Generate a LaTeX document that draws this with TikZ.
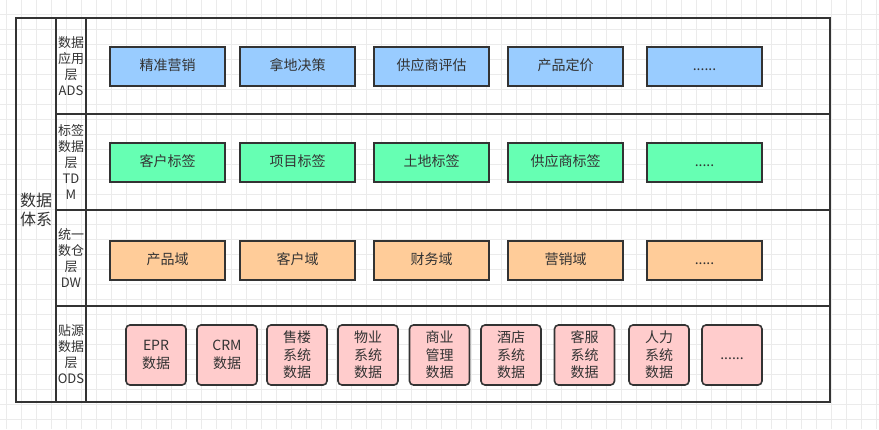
\documentclass[tikz,border=0pt]{standalone}
\usepackage{fontspec}
\setmainfont{Noto Sans CJK SC}
\definecolor{linec}{HTML}{333333}
\definecolor{txtc}{HTML}{333333}
\definecolor{gridc}{HTML}{EBEBEB}
\definecolor{adsc}{HTML}{99CCFF}
\definecolor{tdmc}{HTML}{66FFB3}
\definecolor{dwc}{HTML}{FFCC99}
\definecolor{odsc}{HTML}{FFCCCC}
\begin{document}
\begin{tikzpicture}[x=1pt,y=-1pt,
  frame/.style={draw=linec, line width=1.6pt},
  cell/.style={frame, inner sep=0pt, align=center, text=txtc},
  lbl/.style={cell, minimum width=30pt, font=\fontsize{13}{16}\selectfont},
  lay/.style={draw=linec, line width=1.6pt, minimum width=115pt, minimum height=39pt, inner sep=0pt, text=txtc, text height=11pt, text depth=3pt, font=\fontsize{14}{17}\selectfont},
  ods/.style={draw=linec, fill=odsc, line width=1.6pt, rounded corners=4pt, minimum width=60pt, minimum height=60pt, inner sep=0pt, align=center, text=txtc, font=\fontsize{14}{17.5}\selectfont}]
\useasboundingbox (0,0) rectangle (879,429);
\fill[white] (0,0) rectangle (879,429);
% grid
\foreach \i in {0,...,58} \draw[gridc, line width=0.8pt] (6.7+15*\i,0) -- (6.7+15*\i,429);
\foreach \j in {0,...,28} \draw[gridc, line width=0.8pt] (0,14.3+15*\j) -- (879,14.3+15*\j);
% frames
\node[cell, minimum width=40pt, minimum height=384pt, font=\fontsize{16}{19.5}\selectfont] (sys) at (36,210) {数据\\体系};
\node[lbl, minimum height=96pt] (lads) at (71,66) {数据\\应用\\层\\ADS};
\node[lbl, minimum height=96pt] (ltdm) at (71,162) {标签\\数据\\层\\TD\\M};
\node[lbl, minimum height=96pt] (ldw) at (71,258) {统一\\数仓\\层\\DW};
\node[lbl, minimum height=96pt] (lods) at (71,354) {贴源\\数据\\层\\ODS};
\node[frame, minimum width=744pt, minimum height=96pt] (rads) at (458,66) {};
\node[frame, minimum width=744pt, minimum height=96pt] (rtdm) at (458,162) {};
\node[frame, minimum width=744pt, minimum height=96pt] (rdw) at (458,258) {};
\node[frame, minimum width=744pt, minimum height=96pt] (rods) at (458,354) {};
% ADS
\node[lay, fill=adsc] (a1) at (167.5,66.5) {精准营销};
\node[lay, fill=adsc] (a2) at (297.5,66.5) {拿地决策};
\node[lay, fill=adsc] (a3) at (431.5,66.5) {供应商评估};
\node[lay, fill=adsc] (a4) at (565.5,66.5) {产品定价};
\node[lay, fill=adsc] (a5) at (704.5,66.5) {......};
% TDM
\node[lay, fill=tdmc] (t1) at (167.5,162.5) {客户标签};
\node[lay, fill=tdmc] (t2) at (297.5,162.5) {项目标签};
\node[lay, fill=tdmc] (t3) at (431.5,162.5) {土地标签};
\node[lay, fill=tdmc] (t4) at (565.5,162.5) {供应商标签};
\node[lay, fill=tdmc] (t5) at (704.5,162.5) {.....};
% DW
\node[lay, fill=dwc] (d1) at (167.5,260.5) {产品域};
\node[lay, fill=dwc] (d2) at (297.5,260.5) {客户域};
\node[lay, fill=dwc] (d3) at (431.5,260.5) {财务域};
\node[lay, fill=dwc] (d4) at (565.5,260.5) {营销域};
\node[lay, fill=dwc] (d5) at (704.5,260.5) {.....};
% ODS
\node[ods] (o1) at (156,355) {EPR\\数据};
\node[ods] (o2) at (227,355) {CRM\\数据};
\node[ods] (o3) at (297,355) {售楼\\系统\\数据};
\node[ods] (o4) at (368,355) {物业\\系统\\数据};
\node[ods] (o5) at (439.5,355) {商业\\管理\\数据};
\node[ods] (o6) at (511,355) {酒店\\系统\\数据};
\node[ods] (o7) at (584.5,355) {客服\\系统\\数据};
\node[ods] (o8) at (659,355) {人力\\系统\\数据};
\node[ods, text height=11pt, text depth=3pt] (o9) at (732,355) {......};
\end{tikzpicture}
\end{document}
